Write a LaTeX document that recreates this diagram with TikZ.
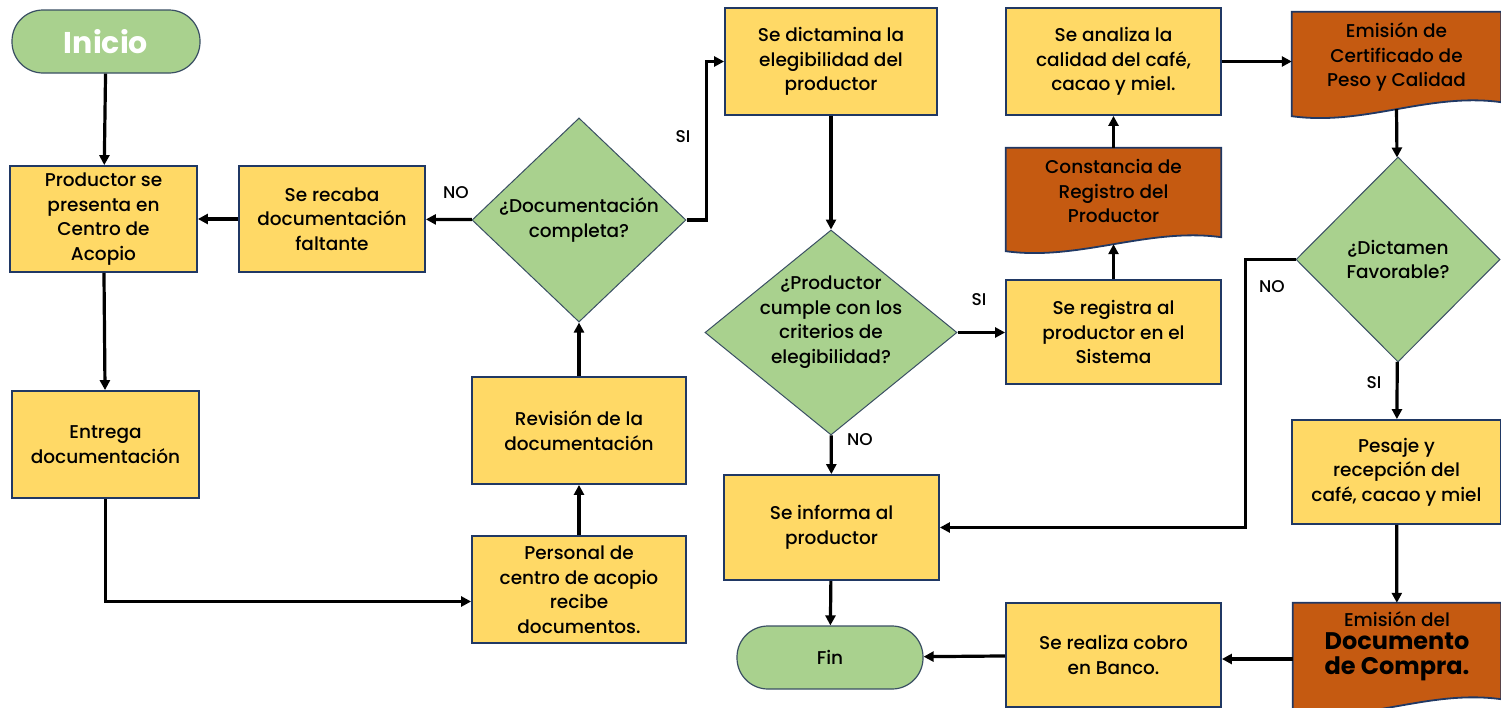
\documentclass[tikz,border=0pt]{standalone}
\usepackage{fontspec}
\setmainfont{Poppins}[UprightFont={* Medium},BoldFont={* Bold}]
\usetikzlibrary{shapes.geometric,arrows.meta,backgrounds,calc}
\definecolor{boxy}{HTML}{FFD966}
\definecolor{boxg}{HTML}{A9D18E}
\definecolor{boxo}{HTML}{C55A11}
\definecolor{navy}{HTML}{203864}
\definecolor{dnavy}{HTML}{3A4F63}
\tikzset{
  base/.style={font=\fontsize{18.5}{24.5}\selectfont},
  proc/.style={base,rectangle,draw=navy,line width=1.8pt,fill=boxy,inner sep=0pt,align=center},
  term/.style={base,rectangle,rounded corners=31pt,draw=dnavy,line width=1.2pt,fill=boxg,inner sep=0pt,align=center},
  decis/.style={base,diamond,draw=dnavy,line width=1pt,fill=boxg,inner sep=0pt,align=center},
  docbox/.style={rectangle,inner sep=0pt},
  docshape/.style={fill=boxo,draw=navy,line width=1.8pt},
  txt/.style={base,align=center,inner sep=0pt},
  lbl/.style={inner sep=0pt,font=\fontsize{17}{20}\selectfont},
  arr/.style={line width=3.2pt,-{Triangle[length=10pt,width=10pt]}},
}
\newcommand\docpath[1]{%
  \begin{scope}[on background layer]
  \path[docshape] (#1.north west) -- (#1.north east) -- ([yshift=16pt]#1.south east)
    .. controls ([xshift=-73pt,yshift=26pt]#1.south east) and ([xshift=73pt,yshift=-8pt]#1.south west)
    .. ([yshift=2pt]#1.south west) -- cycle;
  \end{scope}}
\begin{document}
\begin{tikzpicture}[x=1pt,y=-1pt]
\useasboundingbox (0,0) rectangle (1501,707);
% nodes
\node[term,minimum width=188pt,minimum height=63pt,font=\fontsize{30}{34}\selectfont\bfseries,text=white] (inicio) at (106,41.5) {Inicio};
\node[proc,minimum width=187pt,minimum height=106pt] (prod) at (103.5,219) {Productor se\\presenta en\\Centro de\\Acopio};
\node[proc,minimum width=186pt,minimum height=106pt] (recaba) at (332,219) {Se recaba\\documentación\\faltante};
\node[decis,minimum width=214pt,minimum height=204pt] (dcomp) at (579,220) {¿Documentación\\completa?};
\node[proc,minimum width=212pt,minimum height=107pt] (dict) at (831,61.5) {Se dictamina la\\elegibilidad del\\productor};
\node[proc,minimum width=214pt,minimum height=107pt] (rev) at (579,430.5) {Revisión de la\\documentación};
\node[proc,minimum width=214pt,minimum height=107pt] (pers) at (579,589.5) {Personal de\\centro de acopio\\recibe\\documentos.};
\node[proc,minimum width=187pt,minimum height=107pt] (ent) at (105.5,444.5) {Entrega\\documentación};
\node[decis,minimum width=252pt,minimum height=205pt] (dprod) at (831,332.5) {};
\node[txt] (dprodt) at (831,322) {¿Productor\\cumple con los\\criterios de\\elegibilidad?};
\node[proc,minimum width=215pt,minimum height=105pt] (inf) at (831.5,527.5) {Se informa al\\productor};
\node[term,minimum width=186pt,minimum height=63pt] (fin) at (830,657.5) {Fin};
\node[proc,minimum width=215pt,minimum height=107pt] (anal) at (1113.5,61.5) {Se analiza la\\calidad del café,\\cacao y miel.};
\node[docbox,minimum width=215pt,minimum height=105pt] (const) at (1113.5,200.5) {};
\docpath{const}
\node[txt] (constt) at (1113.5,191) {Constancia de\\Registro del\\Productor};
\node[proc,minimum width=215pt,minimum height=104pt] (reg) at (1113.5,332) {Se registra al\\productor en el\\Sistema};
\node[docbox,minimum width=209pt,minimum height=106pt] (cert) at (1396.5,65) {};
\docpath{cert}
\node[txt] (certt) at (1396.5,57) {Emisión de\\Certificado de\\Peso y Calidad};
\node[decis,minimum width=204pt,minimum height=205pt] (ddict) at (1398,259.5) {¿Dictamen\\Favorable?};
\node[proc,minimum width=209pt,minimum height=104pt] (pes) at (1396.5,472) {Pesaje y\\recepción del\\café, cacao y miel};
\node[docbox,minimum width=208pt,minimum height=112pt] (comp) at (1397,659) {};
\docpath{comp}
\node[txt] (compt) at (1397,646) {Emisión del\\[-1pt]{\fontsize{24}{29}\selectfont\bfseries Documento}\\{\fontsize{24}{29}\selectfont\bfseries de Compra.}};
\node[proc,minimum width=215pt,minimum height=104pt] (cobro) at (1113.5,655) {Se realiza cobro\\en Banco.};
% connectors
\draw[arr] (inicio) -- (prod);
\draw[arr] (prod) -- (ent);
\draw[arr] (ent.south) |- ([yshift=-12pt]pers.west);
\draw[arr] (pers) -- (rev);
\draw[arr] (rev) -- (dcomp);
\draw[arr] (dcomp) -- (recaba);
\node[lbl] (no1) at (456,193) {NO};
\draw[arr] (recaba) -- (prod);
\draw[arr] (dcomp.east) -- ++(20,0) |- (dict.west);
\node[lbl] (si1) at (683,137) {SI};
\draw[arr] (dict) -- (dprod);
\draw[arr] (dprod.east) -- (dprod.east -| reg.west);
\node[lbl] (si2) at (979,300) {SI};
\draw[arr] (dprod) -- (inf);
\node[lbl] (no2) at (860,440) {NO};
\draw[arr] (inf) -- (fin);
\draw[arr] (reg) -- ([yshift=9pt]const.south);
\draw[arr] (const) -- (anal);
\draw[arr] (anal.east) -- (anal.east -| cert.west);
\draw[arr] ([yshift=9pt]cert.south) -- (ddict);
\draw[arr] (ddict.west) -- ++(-50,0) |- (inf.east);
\node[lbl] (no3) at (1272,287) {NO};
\draw[arr] (ddict) -- (pes);
\node[lbl] (si3) at (1374,383) {SI};
\draw[arr] (pes) -- (comp);
\draw[arr] (comp.west) -- (comp.west -| cobro.east);
\draw[arr] (cobro) -- (fin);
\end{tikzpicture}
\end{document}
